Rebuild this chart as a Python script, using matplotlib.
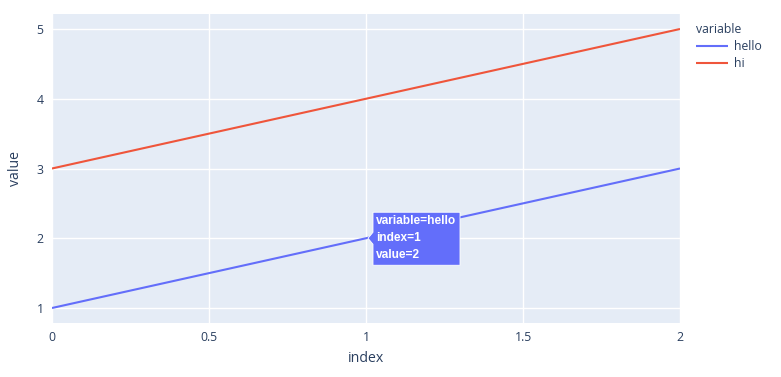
import matplotlib
matplotlib.use("Agg")
import matplotlib.pyplot as plt
import matplotlib.transforms as mtransforms
from matplotlib.patches import Polygon

# data
index = [0, 1, 2]
hello = [1, 2, 3]
hi = [3, 4, 5]
series_names = ["hello", "hi"]
colors = ["#636efa", "#EF553B"]
x_ticks = [0, 0.5, 1, 1.5, 2]
x_tick_labels = ["0", "0.5", "1", "1.5", "2"]
y_ticks = [1, 2, 3, 4, 5]
hover_idx = 1

plt.rcParams['font.family'] = ['Open Sans', 'DejaVu Sans']
txt = "#2a3f5f"

fig = plt.figure(figsize=(7.81, 3.77), dpi=100)
ax = fig.add_axes([52/781, 1 - 323/377, 628/781, 309/377])
ax.set_facecolor("#e5ecf6")

for name, ys, c in zip(series_names, [hello, hi], colors):
    ax.plot(index, ys, color=c, lw=1.5, label=name, zorder=3, solid_capstyle="butt")

ax.set_xlim(0, 2)
ax.set_ylim(0.785, 5.215)
ax.set_xticks(x_ticks)
ax.set_xticklabels(x_tick_labels)
ax.set_yticks(y_ticks)
ax.grid(True, color="white", lw=1)
ax.set_axisbelow(True)
for s in ax.spines.values():
    s.set_visible(False)
ax.tick_params(length=0, labelsize=8.8, colors=txt, pad=6)
ax.set_xlabel("index", fontsize=10.2, color=txt, labelpad=5)
ax.set_ylabel("value", fontsize=10.2, color=txt, labelpad=10)

# legend
leg = ax.legend(title="variable", loc="upper left", bbox_to_anchor=(1.012, 1.0),
                frameon=False, fontsize=8.8, title_fontsize=8.8,
                handlelength=2.6, handletextpad=0.5, borderaxespad=0.3, labelspacing=0.35)
leg._legend_box.align = "left"
for t in leg.get_texts():
    t.set_color(txt)
leg.get_title().set_color(txt)

# hover label anchored at the hovered point
px, py = index[hover_idx], hello[hover_idx]
tr = fig.dpi_scale_trans + mtransforms.ScaledTranslation(px, py, ax.transData)
verts = [(0.02, 0), (0.07, 0.06), (0.07, 0.26), (0.94, 0.26),
         (0.94, -0.27), (0.07, -0.27), (0.07, -0.06)]
ax.add_patch(Polygon(verts, closed=True, transform=tr, facecolor=colors[0],
                     edgecolor="white", lw=0.6, zorder=5, clip_on=False))
lines = ["variable=hello", "index=%d" % px, "value=%d" % py]
for k, s in enumerate(lines):
    ax.text(0.10, 0.17 - 0.17 * k, s, transform=tr, color="white", fontsize=8.6,
            fontweight="bold", va="center", ha="left", zorder=6,
            family=["Liberation Sans", "DejaVu Sans"])

fig.savefig("out.png", dpi=100)
